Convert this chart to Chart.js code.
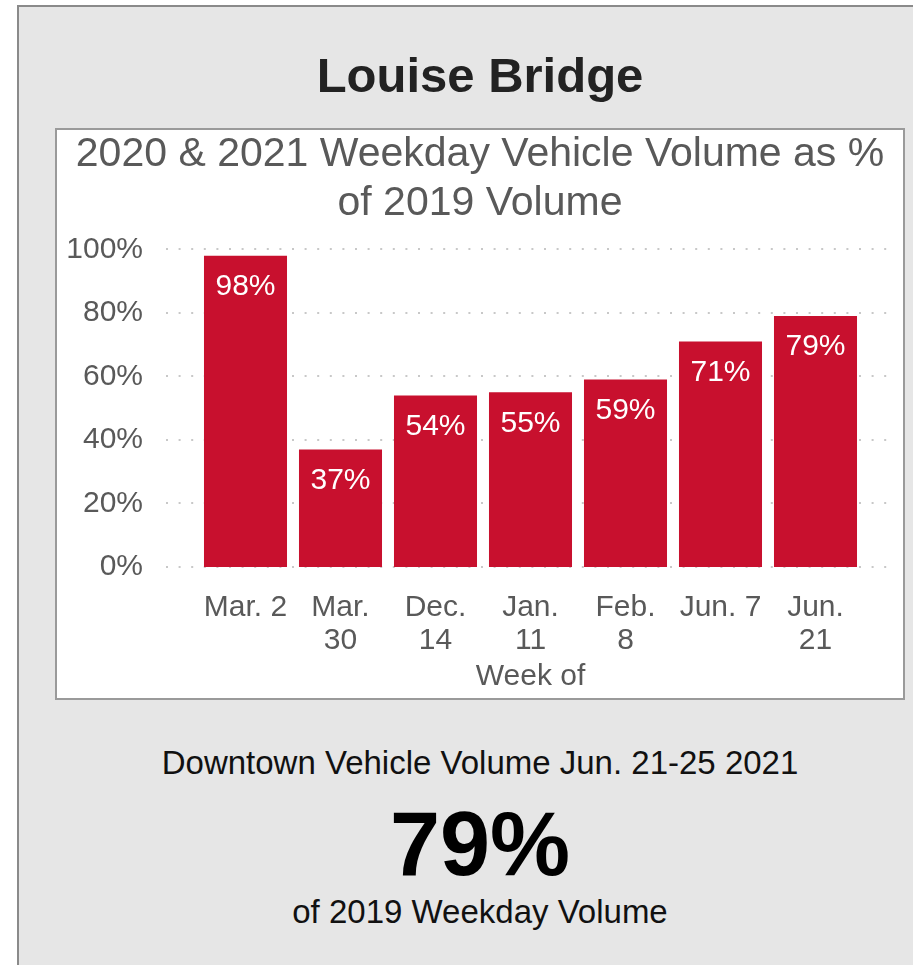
<!DOCTYPE html>
<html>
<head>
<meta charset="utf-8">
<title>Louise Bridge</title>
<script src="https://cdn.jsdelivr.net/npm/chart.js@4.4.1/dist/chart.umd.min.js"></script>
<style>
  body { margin: 0; width: 913px; height: 965px; overflow: hidden; position: relative; background: #fff;
         font-family: "Liberation Sans", Arial, sans-serif; }
  #panel { position: absolute; left: 17px; top: 5px; width: 940px; height: 1000px; background: #e6e6e6;
           border: 2px solid #8a8a8a; box-sizing: border-box; }
  .txt { position: absolute; left: 0; width: 960px; text-align: center; white-space: nowrap; }
  #title { top: 45px; height: 60px; line-height: 60px; font-size: 49px; font-weight: bold; color: #222; }
  #box { position: absolute; left: 55px; top: 128px; width: 850px; height: 572px; background: #fff;
         border: 2px solid #9a9a9a; box-sizing: border-box; }
  #chart { position: absolute; left: 0; top: 0; }
  #sub1 { top: 744px; line-height: 38px; font-size: 33px; color: #111; }
  #big { top: 794px; line-height: 100px; font-size: 90px; font-weight: bold; color: #000; }
  #sub2 { top: 893px; line-height: 38px; font-size: 33px; color: #111; }
</style>
</head>
<body>
<div id="panel"></div>
<div id="title" class="txt">Louise Bridge</div>
<div id="box"><canvas id="chart" width="846" height="568"></canvas></div>
<div id="sub1" class="txt">Downtown Vehicle Volume Jun. 21-25 2021</div>
<div id="big" class="txt">79%</div>
<div id="sub2" class="txt">of 2019 Weekday Volume</div>
<script>
const weeks = [['Mar. 2'], ['Mar.', '30'], ['Dec.', '14'], ['Jan.', '11'], ['Feb.', '8'], ['Jun. 7'], ['Jun.', '21']];
const pctOf2019 = [98, 37, 54, 55, 59, 71, 79];
const yTicks = [0, 20, 40, 60, 80, 100];

const FONT = '"Liberation Sans", Arial, sans-serif';
const GREY = '#595959';

// dotted horizontal gridlines, a little wider than the plot area
const dottedGrid = {
  id: 'dottedGrid',
  beforeDatasetsDraw(chart) {
    const { ctx, chartArea, scales: { y } } = chart;
    ctx.save();
    ctx.strokeStyle = '#c8c8c8';
    ctx.lineWidth = 2;
    ctx.setLineDash([2, 10.6]);
    y.ticks.forEach(t => {
      const py = Math.round(y.getPixelForValue(t.value));
      ctx.beginPath();
      ctx.moveTo(chartArea.left - 32, py);
      ctx.lineTo(chartArea.right + 28, py);
      ctx.stroke();
    });
    ctx.restore();
  }
};

// value labels inside the top of each bar
const barLabels = {
  id: 'barLabels',
  afterDatasetsDraw(chart) {
    const { ctx } = chart;
    ctx.save();
    ctx.fillStyle = '#fff';
    ctx.font = '30px ' + FONT;
    ctx.textAlign = 'center';
    ctx.textBaseline = 'middle';
    chart.getDatasetMeta(0).data.forEach((bar, i) => {
      ctx.fillText(pctOf2019[i] + '%', bar.x, bar.y + 31);
    });
    ctx.restore();
  }
};

new Chart(document.getElementById('chart'), {
  type: 'bar',
  data: {
    labels: weeks,
    datasets: [{
      data: pctOf2019,
      backgroundColor: '#c8102e',
      categoryPercentage: 1,
      barPercentage: 0.874
    }]
  },
  options: {
    responsive: false,
    animation: false,
    layout: { padding: { left: 0, right: 0, top: 0, bottom: 3 } },
    plugins: {
      legend: { display: false },
      tooltip: { enabled: false },
      title: {
        display: true,
        text: ['2020 & 2021 Weekday Vehicle Volume as %', 'of 2019 Volume'],
        color: GREY,
        font: { family: FONT, size: 41, weight: 'normal', lineHeight: 1.2 },
        padding: { top: 0, bottom: 21 }
      }
    },
    scales: {
      x: {
        grid: { display: false, drawTicks: false },
        border: { display: false },
        afterFit: s => { s.height = 128; },
        ticks: {
          color: GREY,
          padding: 25,
          maxRotation: 0,
          autoSkip: false,
          font: { family: FONT, size: 30, lineHeight: 1.08 }
        },
        title: {
          display: true,
          text: 'Week of',
          color: GREY,
          padding: { top: 0, bottom: 0 },
          font: { family: FONT, size: 30, lineHeight: 1.2 }
        }
      },
      y: {
        min: 0,
        max: 100,
        grid: { display: false, drawTicks: false },
        border: { display: false },
        afterBuildTicks: s => { s.ticks = yTicks.map(v => ({ value: v })); },
        afterFit: s => { s.width = 141; },
        ticks: {
          color: GREY,
          padding: 55,
          font: { family: FONT, size: 30 },
          callback: v => v + '%'
        }
      },
      // empty right-hand axis that only reserves the right margin
      yRight: {
        position: 'right',
        min: 0,
        max: 100,
        grid: { display: false, drawTicks: false },
        border: { display: false },
        ticks: { display: false },
        afterFit: s => { s.width = 40; }
      }
    }
  },
  plugins: [dottedGrid, barLabels]
});
</script>
</body>
</html>
